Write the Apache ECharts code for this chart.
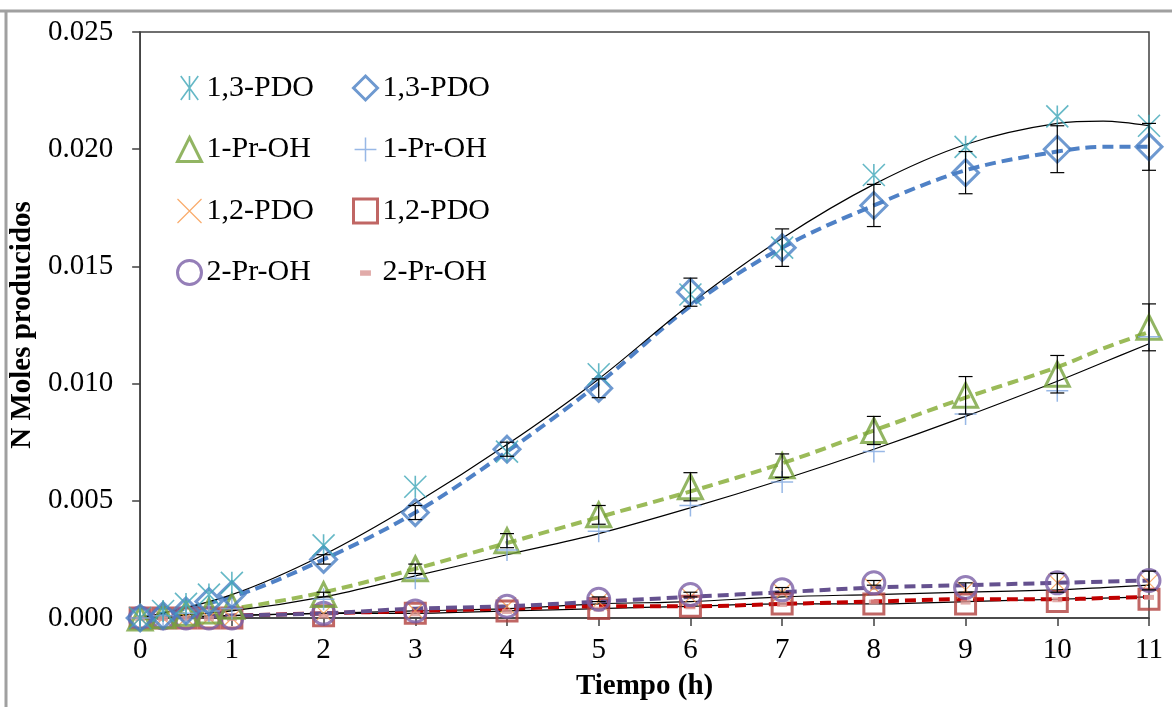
<!DOCTYPE html>
<html><head><meta charset="utf-8">
<script src="https://cdn.jsdelivr.net/npm/echarts@6/dist/echarts.min.js"></script>
<style>html,body{margin:0;padding:0;background:#fff}#c{width:1172px;height:707px}</style>
</head><body><div id="c"></div>
<script>
// ---- data ----
const times = [0, 0.25, 0.5, 0.75, 1, 2, 3, 4, 5, 6, 7, 8, 9, 10, 11];
const pdo13Ast   = [0, 0.0003, 0.0006, 0.0010, 0.0015, 0.0031, 0.0056, 0.0071, 0.0104, 0.0138, 0.0158, 0.0189, 0.0201, 0.0214, 0.0210];
const pdo13Dia   = [0, 0.0001, 0.0003, 0.0007, 0.0010, 0.0025, 0.0045, 0.0072, 0.0098, 0.0139, 0.0158, 0.0176, 0.0190, 0.0200, 0.0201];
const pdo13DiaErr= [0, 0, 0, 0, 0, 0.0002, 0.0003, 0.0003, 0.0004, 0.0006, 0.0008, 0.0009, 0.0009, 0.0010, 0.0010];
const prOH1Tri   = [0, 0.0001, 0.0002, 0.0003, 0.0005, 0.0010, 0.0021, 0.0033, 0.0044, 0.0056, 0.0065, 0.0080, 0.0095, 0.0104, 0.0124];
const prOH1TriErr= [0, 0, 0, 0, 0, 0.0001, 0.0002, 0.0003, 0.0004, 0.0006, 0.0005, 0.0006, 0.0008, 0.0008, 0.0010];
const prOH1Plus  = [0, 0.0001, 0.0002, 0.0003, 0.0004, 0.0008, 0.0017, 0.0029, 0.0037, 0.0048, 0.0058, 0.0071, 0.0087, 0.0097, 0.0120];
const pdo12X     = [0, 0, 0, 0, 0, 0.0002, 0.0003, 0.0005, 0.0007, 0.0009, 0.0011, 0.0013, 0.0012, 0.0015, 0.0015];
const pdo12Sq    = [0, 0, 0, 0, 0, 0.0001, 0.0002, 0.0003, 0.0004, 0.0005, 0.0006, 0.0006, 0.0006, 0.0007, 0.0008];
const prOH2Circ  = [0, 0, 0, 0, 0, 0.0002, 0.0003, 0.0005, 0.0008, 0.0010, 0.0012, 0.0015, 0.0013, 0.0015, 0.0016];
const prOH2CircErr=[0, 0, 0, 0, 0, 0, 0, 0, 0.0001, 0.0001, 0.0001, 0.0001, 0.0002, 0.0004, 0.0004];
const prOH2Dash  = [0, 0, 0, 0, 0, 0.0001, 0.0002, 0.0003, 0.0004, 0.0005, 0.0006, 0.0007, 0.0007, 0.0008, 0.0009];

// curves
const fitTimes = [0, 1, 2, 3, 4, 5, 6, 7, 8, 9, 10, 10.5, 11];
const fit13Black  = [0, 0.0010, 0.0027, 0.0049, 0.0074, 0.0102, 0.0134, 0.0162, 0.0185, 0.0202, 0.0211, 0.0212, 0.0210];
const fit13Blue   = [0, 0.0009, 0.0025, 0.0045, 0.0071, 0.0100, 0.0133, 0.0158, 0.0176, 0.0191, 0.0199, 0.0201, 0.0201];
const fitPr1Green = [0, 0.0004, 0.0011, 0.0021, 0.0032, 0.0043, 0.0054, 0.0066, 0.0080, 0.0094, 0.0107, 0.0115, 0.0122];
const fitPr1Black = [0, 0.0003, 0.0009, 0.0018, 0.0027, 0.0036, 0.0047, 0.0059, 0.0072, 0.0086, 0.0101, 0.0109, 0.0117];
const fitPdo12Red = [0, 0.0001, 0.0002, 0.0003, 0.0004, 0.0005, 0.0005, 0.0006, 0.0007, 0.0008, 0.0008, 0.00085, 0.0009];
const fitPr2Purple= [0, 0.0001, 0.0002, 0.0004, 0.0005, 0.0007, 0.0009, 0.0011, 0.0013, 0.0014, 0.0015, 0.00155, 0.0016];
const fitLowBlackA= [0, 0.0001, 0.0002, 0.0003, 0.0004, 0.0006, 0.0007, 0.0009, 0.0010, 0.0011, 0.0012, 0.0013, 0.0014];
const fitLowBlackB= [0, 0.0001, 0.0002, 0.0002, 0.0003, 0.0004, 0.0005, 0.0006, 0.0006, 0.0007, 0.0008, 0.00085, 0.0009];

const yTicks = [0, 0.005, 0.010, 0.015, 0.020, 0.025];
const xTicks = [0, 1, 2, 3, 4, 5, 6, 7, 8, 9, 10, 11];

const legendCol1 = ['A|1,3-PDO', 'A|1-Pr-OH', 'A|1,2-PDO', 'A|2-Pr-OH'];
const legendCol2 = ['B|1,3-PDO', 'B|1-Pr-OH', 'B|1,2-PDO', 'B|2-Pr-OH'];

// ---- build ----
const FONT = '"Liberation Serif", "Times New Roman", serif';
const pts = (xs, ys) => xs.map((x, i) => [x, ys[i]]);
const errPts = (ys, es) => times.map((t, i) => [t, ys[i] - es[i], ys[i] + es[i]]).filter((d, i) => es[i] > 0);

const SYM_AST  = 'path://M2,0 L18,22 M18,0 L2,22 M10,0 L10,22';
const SYM_PLUS = 'path://M10,0 L10,22 M0,11 L20,11';
const SYM_X    = 'path://M0,0 L20,20 M20,0 L0,20';
const SYM_DASH = 'path://M0,0 M22,22 M6,9 L16,9 L16,14 L6,14 Z';

const styles = {
  'A|1,3-PDO': { color: 'none', borderColor: '#3fa6b8', borderWidth: 1.6 },
  'B|1,3-PDO': { color: 'none', borderColor: '#4a7fc4', borderWidth: 3 },
  'A|1-Pr-OH': { color: 'none', borderColor: '#77a33c', borderWidth: 3 },
  'B|1-Pr-OH': { color: 'none', borderColor: '#7ea6e0', borderWidth: 1.5 },
  'A|1,2-PDO': { color: 'none', borderColor: '#f79646', borderWidth: 1.2 },
  'B|1,2-PDO': { color: 'none', borderColor: '#b0403d', borderWidth: 3 },
  'A|2-Pr-OH': { color: 'none', borderColor: '#7b5fa6', borderWidth: 3 },
  'B|2-Pr-OH': { color: '#d99694', borderColor: '#d99694', borderWidth: 0 }
};

function scatter(name, data, symbol, size, z) {
  return { name, type: 'scatter', data, symbol, symbolSize: size, itemStyle: styles[name], z: z || 3, silent: true };
}
function curve(data, color, width, dashed, z) {
  return { type: 'line', data, smooth: 0.35, symbol: 'none', silent: true, z: z || 2,
    lineStyle: { color, width, type: dashed ? [11, 6] : 'solid', cap: 'butt' } };
}
function errBars(data) {
  return {
    type: 'custom', silent: true, z: 4, data,
    encode: { x: 0, y: [1, 2] },
    renderItem: (params, api) => {
      const x = api.value(0);
      const lo = api.coord([x, api.value(1)]);
      const hi = api.coord([x, api.value(2)]);
      const w = 7, st = { stroke: '#000', lineWidth: 1.2 };
      return { type: 'group', children: [
        { type: 'line', shape: { x1: lo[0], y1: lo[1], x2: hi[0], y2: hi[1] }, style: st },
        { type: 'line', shape: { x1: lo[0] - w, y1: lo[1], x2: lo[0] + w, y2: lo[1] }, style: st },
        { type: 'line', shape: { x1: hi[0] - w, y1: hi[1], x2: hi[0] + w, y2: hi[1] }, style: st }
      ]};
    }
  };
}

const series = [
  curve(pts(fitTimes, fitLowBlackA), '#000', 1.2, false, 2),
  curve(pts(fitTimes, fitLowBlackB), '#000', 1.2, false, 2),
  curve(pts(fitTimes, fitPdo12Red), '#c00000', 4, true, 2),
  curve(pts(fitTimes, fitPr2Purple), '#65518f', 4, true, 2),
  curve(pts(fitTimes, fitPr1Green), '#9bbb59', 4, true, 2),
  curve(pts(fitTimes, fitPr1Black), '#000', 1.2, false, 2),
  curve(pts(fitTimes, fit13Blue), '#4f81c6', 4, true, 2),
  curve(pts(fitTimes, fit13Black), '#000', 1.2, false, 2),
  errBars(errPts(pdo13Dia, pdo13DiaErr)),
  errBars(errPts(prOH1Tri, prOH1TriErr)),
  errBars(errPts(prOH2Circ, prOH2CircErr)),
  scatter('A|1,2-PDO', pts(times, pdo12X), SYM_X, 18),
  scatter('B|1,2-PDO', pts(times, pdo12Sq), 'rect', 20),
  scatter('B|2-Pr-OH', pts(times, prOH2Dash), SYM_DASH, 22),
  scatter('A|2-Pr-OH', pts(times, prOH2Circ), 'circle', 22),
  scatter('A|1-Pr-OH', pts(times, prOH1Tri), 'triangle', 24),
  scatter('B|1-Pr-OH', pts(times, prOH1Plus), SYM_PLUS, 22),
  scatter('B|1,3-PDO', pts(times, pdo13Dia), 'diamond', 26),
  scatter('A|1,3-PDO', pts(times, pdo13Ast), SYM_AST, 22)
];

const legendBase = {
  orient: 'vertical', top: 68, itemWidth: 24, itemHeight: 24, itemGap: 31.5,
  itemStyle: { borderWidth: 'inherit', borderColor: 'inherit', color: 'inherit' },
  textStyle: { fontFamily: FONT, fontSize: 30, color: '#000', lineHeight: 30 },
  formatter: n => n.split('|')[1], selectedMode: false
};

const chart = echarts.init(document.getElementById('c'), null, { renderer: 'canvas' });
chart.setOption({
  animation: false,
  backgroundColor: '#fff',
  grid: { left: 136, right: 23, top: 32, bottom: 89, show: true, borderColor: '#404040', borderWidth: 1.5, backgroundColor: 'transparent' },
  xAxis: {
    type: 'value', min: 0, max: 11, interval: 1,
    axisLine: { lineStyle: { color: '#404040', width: 1.5 } },
    axisTick: { show: true, inside: false, length: 8, lineStyle: { color: '#404040', width: 1.5 } },
    splitLine: { show: false },
    axisLabel: { fontFamily: FONT, fontSize: 29, color: '#000', margin: 18, formatter: v => xTicks.includes(v) ? String(v) : '' },
    name: 'Tiempo (h)', nameLocation: 'middle', nameGap: 54,
    nameTextStyle: { fontFamily: FONT, fontSize: 29, fontWeight: 'bold', color: '#000' }
  },
  yAxis: {
    type: 'value', min: 0, max: 0.025, interval: 0.005,
    axisLine: { show: true, lineStyle: { color: '#404040', width: 1.5 } },
    axisTick: { show: true, inside: false, length: 8, lineStyle: { color: '#404040', width: 1.5 } },
    splitLine: { show: false },
    axisLabel: { fontFamily: FONT, fontSize: 29, color: '#000', margin: 27,
      formatter: v => { const t = yTicks.find(k => Math.abs(k - v) < 1e-9); return t === undefined ? '' : t.toFixed(3); } },
    name: 'N Moles producidos', nameLocation: 'middle', nameGap: 92,
    nameTextStyle: { fontFamily: FONT, fontSize: 29, fontWeight: 'bold', color: '#000' }
  },
  legend: [
    Object.assign({}, legendBase, { left: 170, data: legendCol1 }),
    Object.assign({}, legendBase, { left: 346, data: legendCol2 })
  ],
  graphic: [
    { type: 'line', shape: { x1: 0, y1: 11, x2: 1172, y2: 11 }, style: { stroke: '#a0a0a0', lineWidth: 3 }, silent: true },
    { type: 'line', shape: { x1: 6, y1: 11, x2: 6, y2: 707 }, style: { stroke: '#a0a0a0', lineWidth: 3 }, silent: true }
  ],
  series
});
</script></body></html>
